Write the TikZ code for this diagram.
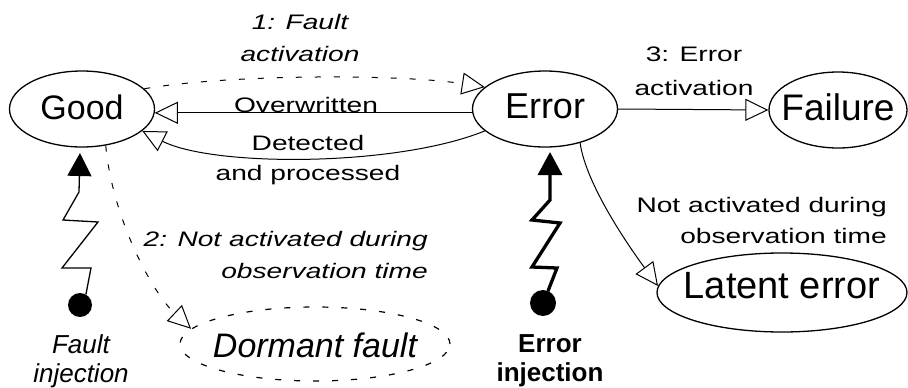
\documentclass[tikz,border=0pt]{standalone}
\usepackage{fontspec}
\setmainfont{Liberation Sans}
\newfontfamily\labelfont[FakeStretch=1.34]{Liberation Sans}
\usetikzlibrary{shapes.geometric,arrows.meta}

\begin{document}
\begin{tikzpicture}[x=1pt,y=-1pt,
  state/.style={ellipse, draw, line width=1.3pt, inner sep=0pt, text depth=0pt},
  sparse/.style={dash pattern=on 6pt off 13pt},
  lbl/.style={inner sep=0pt, font=\labelfont\fontsize{21}{#1}\selectfont},
  lbl/.default=30,
  ilbl/.style={inner sep=0pt, font=\labelfont\fontsize{21}{#1}\selectfont\itshape},
  ilbl/.default=30,
  opentip/.style={-{Triangle[open, length=23pt, width=22pt, line width=1pt]}},
  flow/.style={line width=1pt, opentip},
  inject/.style={circle, fill=black, inner sep=0pt},
  solidtip/.style={-{Triangle[length=23pt, width=24pt]}}
]
\fill[white] (0,0) rectangle (908,388);
\useasboundingbox (0,0) rectangle (908,388);

% states
\node[state, minimum width=145pt, minimum height=76pt, text height=20pt,
      font=\fontsize{34}{40}\selectfont] (good) at (82,109) {\makebox[0pt]{Good}};
\node[state, minimum width=145pt, minimum height=76pt, text height=18pt,
      font=\fontsize{36}{42}\selectfont] (err) at (545,109) {\makebox[0pt]{Error}};
\node[state, minimum width=138pt, minimum height=76pt, text height=20pt,
      font=\fontsize{37}{42}\selectfont] (fail) at (838,110) {\makebox[0pt]{Failure}};
\node[state, minimum width=250pt, minimum height=79pt, text height=11pt,
      font=\fontsize{38}{44}\selectfont] (lat) at (782,292.5) {\makebox[0pt]{Latent error}};
\node[state, sparse, line width=1.2pt, minimum width=270pt, minimum height=74pt, text height=26pt,
      font=\fontsize{34}{40}\selectfont\itshape] (dorm) at (315,344) {\makebox[0pt]{Dormant fault}};

% transitions
\draw[flow, sparse] (good.18) .. controls (230,74) and (400,74) .. (err.160);
\draw[flow] (err.183) -- (good.-3);
\draw[flow] (err.200) .. controls (396,167) and (213,167) .. (good.-20);
\draw[flow] (err.east) -- (fail.west);
\draw[flow] (err.-44) .. controls (586,185) and (630,248) .. (lat.177);
\draw[flow, sparse] (good.-57) .. controls (112,215) and (150,290) .. (dorm.173);

% transition labels
\node[ilbl=32, align=center] (lfa) at (300,38) {1: Fault\\activation};
\node[lbl, anchor=base] (low) at (306,112) {Overwritten};
\node[lbl=30, align=center] (ldp) at (308,160) {Detected\\and processed};
\node[lbl=34, align=center] (lea) at (694,71.5) {3: Error\\activation};
\node[lbl=31, align=right, anchor=east] (lna) at (887,220) {Not activated during\\observation time};
\node[ilbl=32, align=right, anchor=east] (l2) at (428,254.5) {2: Not activated during\\observation time};

% injection points
\node[inject, minimum size=24pt] (fdot) at (80,305) {};
\coordinate (ftip) at (80,153);
\draw[line width=1.3pt, solidtip] (fdot) -- (86,294) -- (91,268) -- (62,268) -- (98,222)
  -- (63,220) -- (79,192) -- (ftip);

\node[inject, minimum size=26pt] (edot) at (543,303) {};
\coordinate (etip) at (550,152);
\draw[line width=3.3pt, solidtip] (edot) -- (548,291) -- (557,268) -- (532,267) -- (560,223)
  -- (532,220) -- (550,200) -- (etip);

\node[inner sep=0pt, align=center, font=\fontsize{26}{29}\selectfont\itshape] (lfi) at (81,361) {Fault\\injection};
\node[inner sep=0pt, align=center, font=\fontsize{26}{29}\selectfont\bfseries] (lei) at (550,361) {Error\\injection};
\end{tikzpicture}
\end{document}
